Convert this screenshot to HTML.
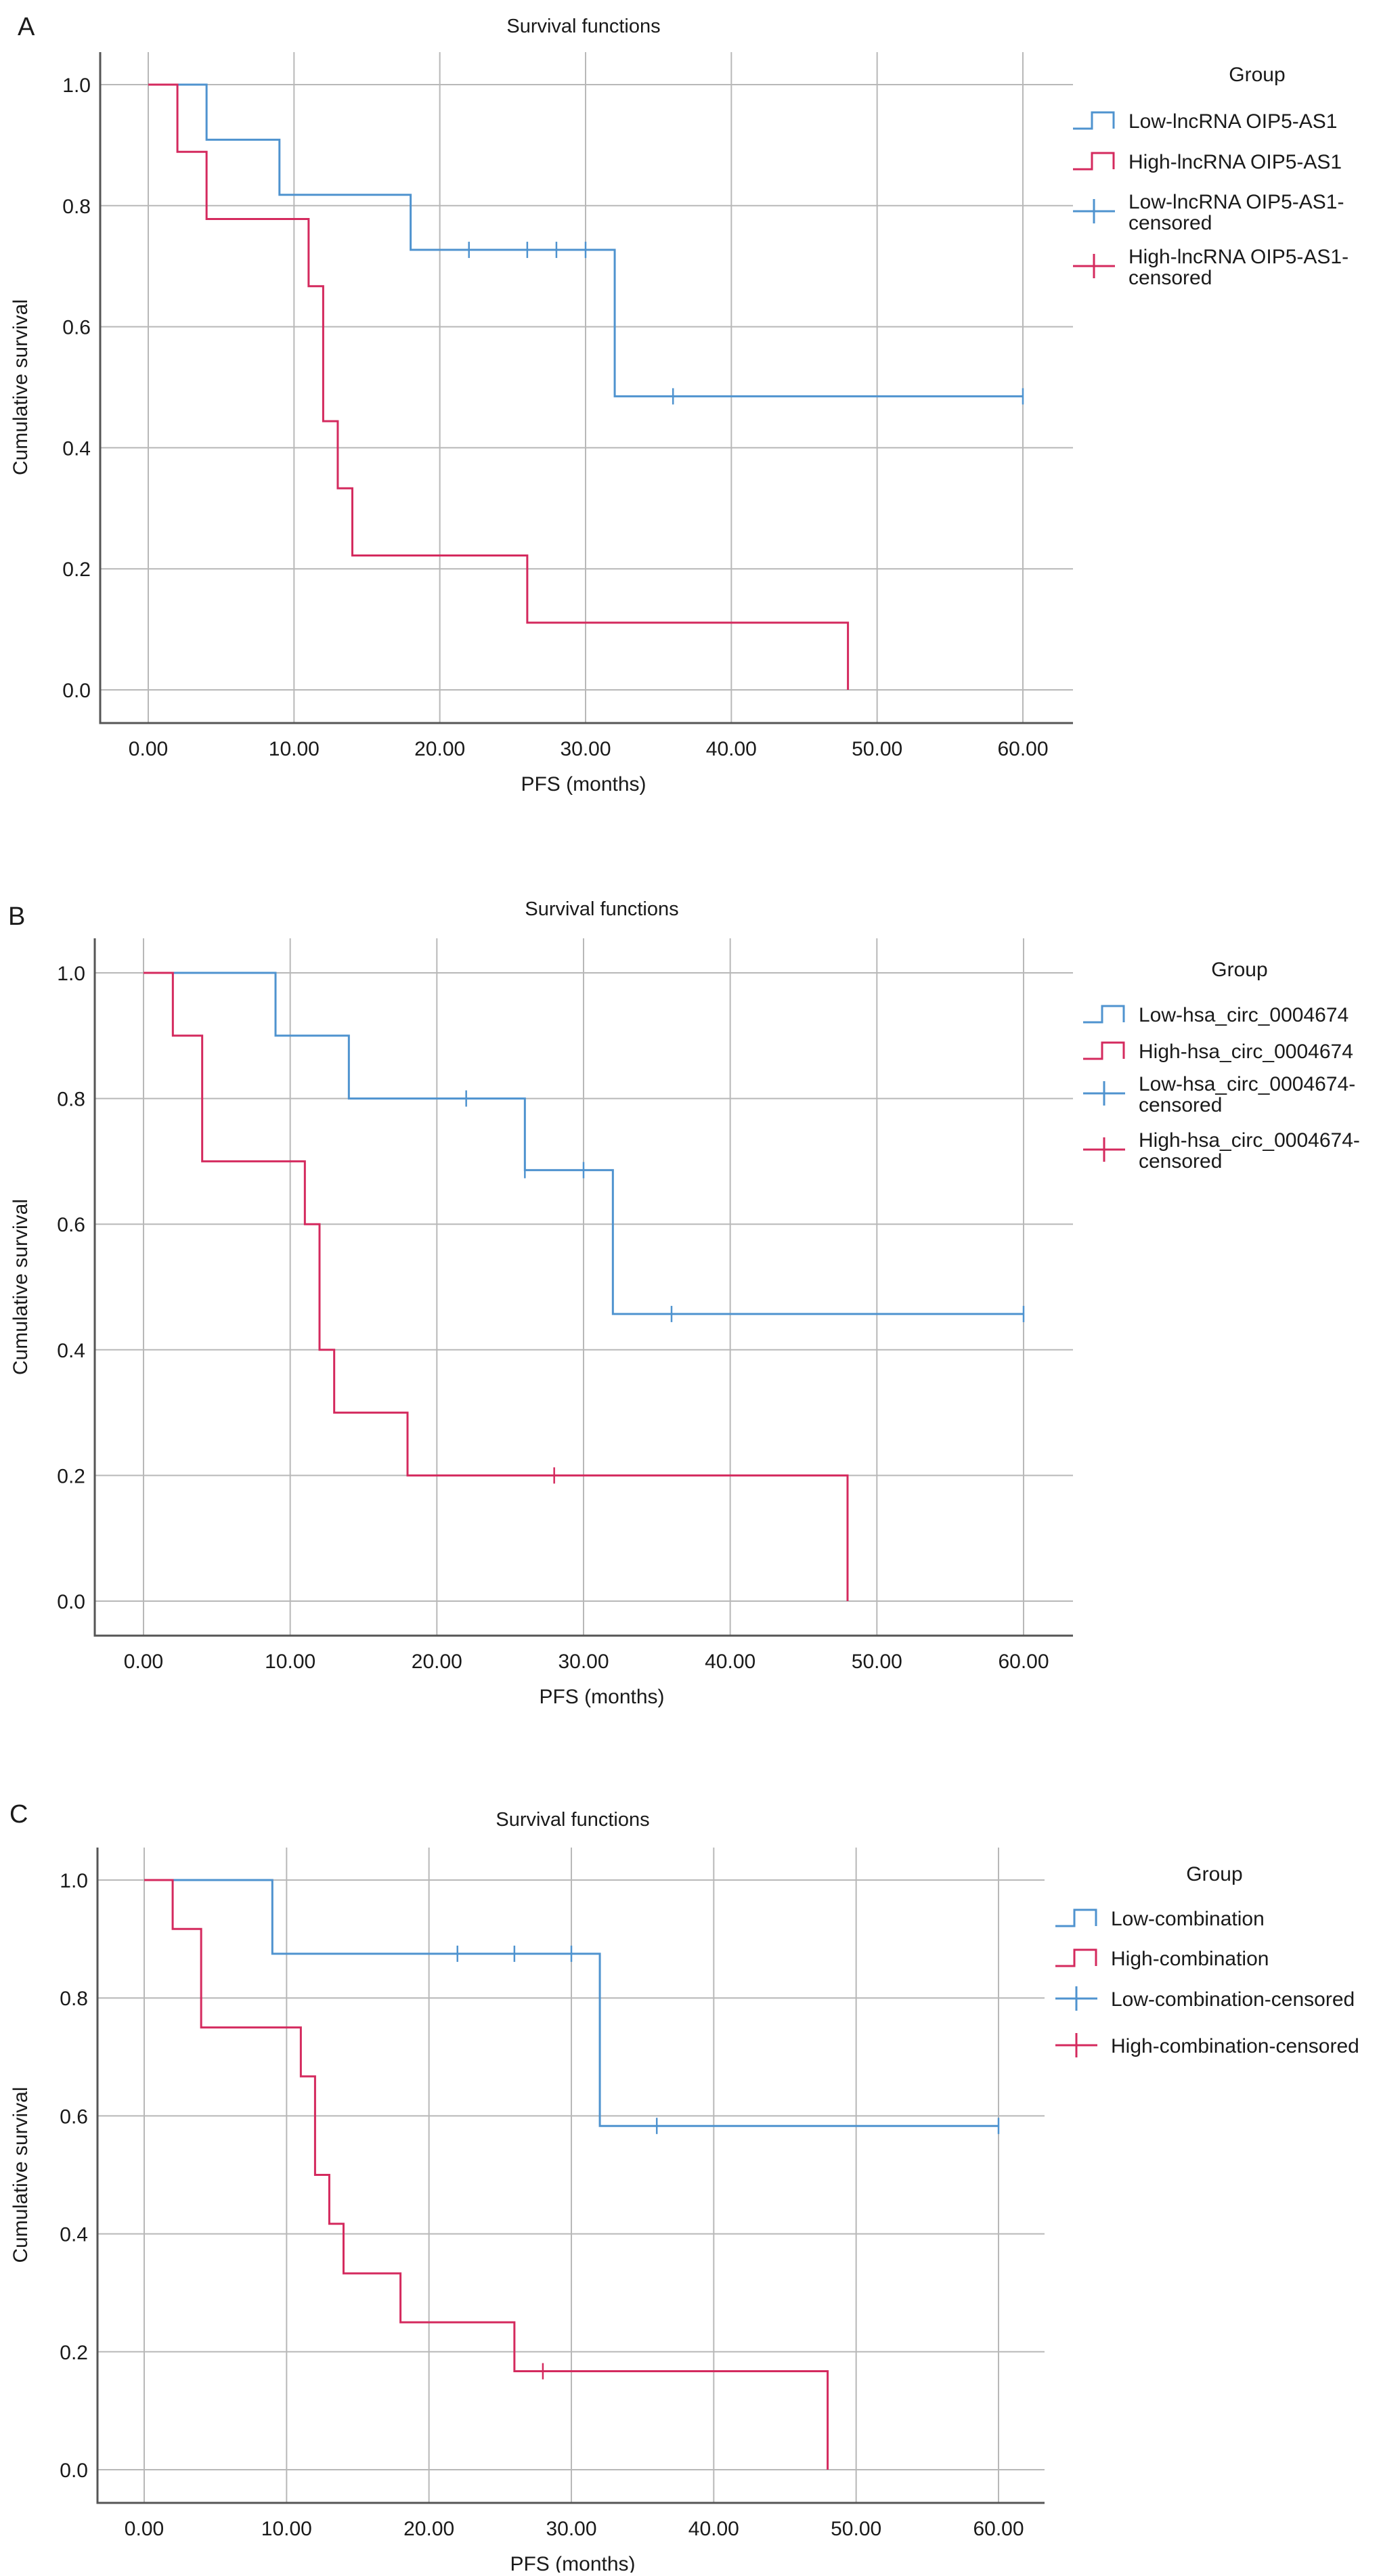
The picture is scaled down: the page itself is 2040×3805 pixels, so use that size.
<!DOCTYPE html>
<html><head><meta charset="utf-8"><style>
html,body{margin:0;padding:0;background:#fff;}
svg text{font-family:"Liberation Sans",sans-serif;fill:#1a1a1a;}
</style></head><body>
<svg id="fig" width="2040" height="3800" viewBox="0 0 2040 3800" xmlns="http://www.w3.org/2000/svg"></svg>
<script>
// Panel A data
const aLowT = [0, 4, 9, 18, 32, 60];
const aLowS = [1, 0.909, 0.818, 0.727, 0.485, 0.485];
const aLowC = [22, 26, 28, 30, 36, 60];
const aHighT = [0, 2, 4, 11, 12, 13, 14, 26, 48];
const aHighS = [1, 0.889, 0.778, 0.667, 0.444, 0.333, 0.222, 0.111, 0];
const aHighC = [];
// Panel B data
const bLowT = [0, 9, 14, 26, 32, 60];
const bLowS = [1, 0.9, 0.8, 0.686, 0.457, 0.457];
const bLowC = [22, 26, 30, 36, 60];
const bHighT = [0, 2, 4, 11, 12, 13, 18, 48];
const bHighS = [1, 0.9, 0.7, 0.6, 0.4, 0.3, 0.2, 0];
const bHighC = [28];
// Panel C data
const cLowT = [0, 9, 32, 60];
const cLowS = [1, 0.875, 0.583, 0.583];
const cLowC = [22, 26, 30, 36, 60];
const cHighT = [0, 2, 4, 11, 12, 13, 14, 18, 26, 48];
const cHighS = [1, 0.917, 0.75, 0.667, 0.5, 0.417, 0.333, 0.25, 0.167, 0];
const cHighC = [28];
// Ticks
const xTicks = [0, 10, 20, 30, 40, 50, 60];
const xTickLabels = ["0.00", "10.00", "20.00", "30.00", "40.00", "50.00", "60.00"];
const yTicks = [0, 0.2, 0.4, 0.6, 0.8, 1.0];
const yTickLabels = ["0.0", "0.2", "0.4", "0.6", "0.8", "1.0"];
const legendA = ["Low-lncRNA OIP5-AS1", "High-lncRNA OIP5-AS1", "Low-lncRNA OIP5-AS1-|censored", "High-lncRNA OIP5-AS1-|censored"];
const legendB = ["Low-hsa_circ_0004674", "High-hsa_circ_0004674", "Low-hsa_circ_0004674-|censored", "High-hsa_circ_0004674-|censored"];
const legendC = ["Low-combination", "High-combination", "Low-combination-censored", "High-combination-censored"];

const BLUE = "#4f93cf", RED = "#d42a5e", GRID = "#b8b8b8";
const NS = "http://www.w3.org/2000/svg";
const svg = document.getElementById("fig");
function mk(tag, attrs, parent, text) {
  const e = document.createElementNS(NS, tag);
  for (const k in attrs) e.setAttribute(k, attrs[k]);
  if (text !== undefined) e.textContent = text;
  (parent || svg).appendChild(e);
  return e;
}
function stepAt(T, S, t) { let s = S[0]; for (let i = 0; i < T.length; i++) if (T[i] <= t) s = S[i]; return s; }

function panel(p, lowT, lowS, lowC, highT, highS, highC, legend) {
  const g = mk("g", {});
  
  
  const X = v => p.x0 + (p.x60 - p.x0) * v / 60;
  const Y = v => p.y0 + (p.y1 - p.y0) * v;
  const t1 = mk("text", {x: p.lx, y: p.ly, "font-size": 38}, g, p.letter);
  
  
  const tt = mk("text", {x: p.tx, y: p.ty, "font-size": 29, "text-anchor": "middle"}, g, "Survival functions");
  
  
  // grid
  xTicks.forEach((v, i) => {
    const l = mk("line", {x1: X(v), x2: X(v), y1: p.top, y2: p.axisY, stroke: GRID, "stroke-width": 2}, g);
    
    
    const t = mk("text", {x: X(v), y: p.axisY + 48, "font-size": 30, "text-anchor": "middle"}, g, xTickLabels[i]);
    
    
  });
  yTicks.forEach((v, i) => {
    const l = mk("line", {x1: p.left, x2: p.right, y1: Y(v), y2: Y(v), stroke: GRID, "stroke-width": 2}, g);
    
    
    const t = mk("text", {x: p.left - 14, y: Y(v) + 11, "font-size": 30, "text-anchor": "end"}, g, yTickLabels[i]);
    
    
  });
  const ax = mk("path", {d: `M${p.left},${p.top} V${p.axisY} H${p.right}`, stroke: "#555", "stroke-width": 3, fill: "none"}, g);
  
  
  const xl = mk("text", {x: p.tx, y: p.axisY + 100, "font-size": 30, "text-anchor": "middle"}, g, "PFS (months)");
  
  
  const ym = (p.y0 + p.y1) / 2;
  const yl = mk("text", {x: 40, y: ym, "font-size": 30, "text-anchor": "middle", transform: `rotate(-90 40 ${ym})`}, g, "Cumulative survival");
  
  
  function curve(T, S, C, col, name) {
    let d = `M${X(T[0])},${Y(S[0])}`;
    for (let i = 1; i < T.length; i++) d += ` H${X(T[i])} V${Y(S[i])}`;
    const c = mk("path", {d: d, stroke: col, "stroke-width": 3, fill: "none"}, g);
    
    
    C.forEach(t => {
      const s = stepAt(T, S, t);
      const m = mk("line", {x1: X(t), x2: X(t), y1: Y(s) - 12, y2: Y(s) + 12, stroke: col, "stroke-width": 2.5}, g);
      
      
    });
  }
  curve(lowT, lowS, lowC, BLUE, 'low');
  curve(highT, highS, highC, RED, 'high');
  // legend
  const gt = mk("text", {x: p.gx, y: p.gy, "font-size": 30, "text-anchor": "middle"}, g, "Group");
  
  
  legend.forEach((lab, i) => {
    const cy = p.ly2[i], sx = p.sx, col = i % 2 ? RED : BLUE;
    const parts = lab.split("|");
    const off = parts.length > 1 ? 15 : 0;
    let sym;
    if (i < 2) sym = mk("path", {d: `M${sx},${cy + 12 + off} H${sx + 28} V${cy - 12 + off} H${sx + 60} V${cy + 12 + off}`, stroke: col, "stroke-width": 3, fill: "none"}, g);
    else sym = mk("path", {d: `M${sx},${cy + off} H${sx + 62} M${sx + 31},${cy - 18 + off} V${cy + 18 + off}`, stroke: col, "stroke-width": 3, fill: "none"}, g);
    
    
    parts.forEach((ptxt, j) => {
      const t = mk("text", {x: sx + 82, y: cy + 11 + j * 31, "font-size": 30}, g, ptxt);
      
      
    });
  });
}
panel({letter: "A", lx: 26, ly: 52, tx: 862, ty: 48, top: 77, axisY: 1068, left: 148, right: 1585,
  x0: 219, x60: 1511, y1: 125, y0: 1019, gx: 1857, gy: 120, sx: 1585, ly2: [178, 238, 297, 378]},
  aLowT, aLowS, aLowC, aHighT, aHighS, aHighC, legendA);
panel({letter: "B", lx: 12, ly: 1366, tx: 889, ty: 1352, top: 1386, axisY: 2416, left: 140, right: 1585,
  x0: 212, x60: 1512, y1: 1437, y0: 2365, gx: 1831, gy: 1442, sx: 1600, ly2: [1498, 1552, 1600, 1683]},
  bLowT, bLowS, bLowC, bHighT, bHighS, bHighC, legendB);
panel({letter: "C", lx: 14, ly: 2692, tx: 846, ty: 2697, top: 2729, axisY: 3697, left: 144, right: 1543,
  x0: 213, x60: 1475, y1: 2777, y0: 3648, gx: 1794, gy: 2778, sx: 1559, ly2: [2833, 2892, 2952, 3021]},
  cLowT, cLowS, cLowC, cHighT, cHighS, cHighC, legendC);
</script>
</body></html>
